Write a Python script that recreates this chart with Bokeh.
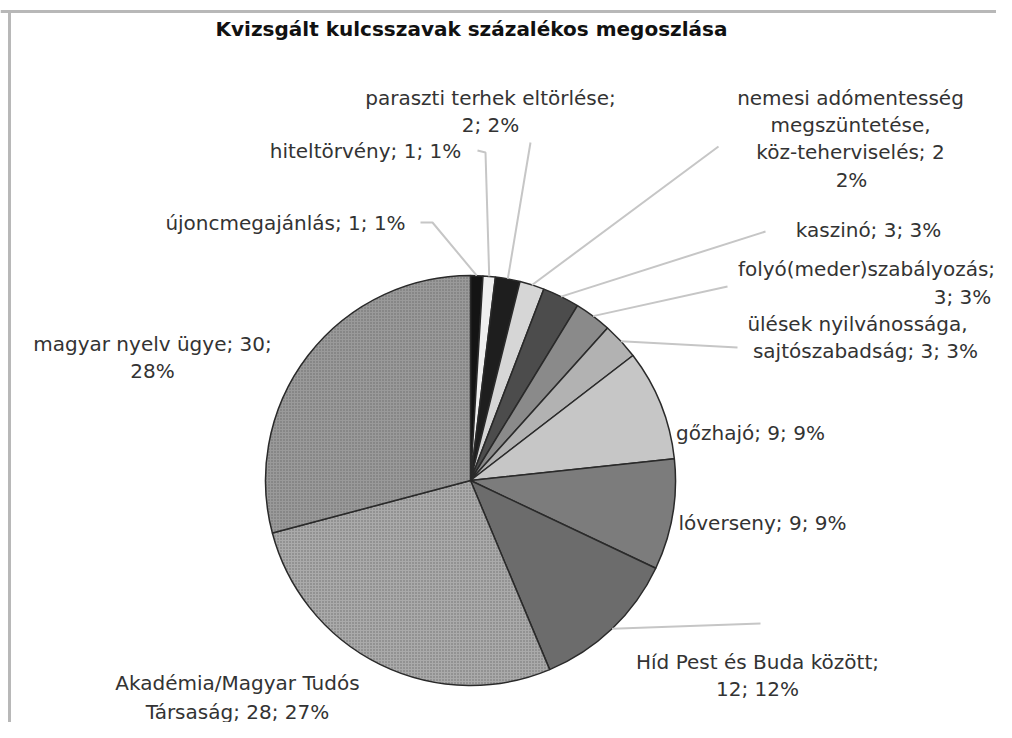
import math
from bokeh.plotting import figure
from bokeh.models import Range1d
from bokeh.core.properties import value
from bokeh.embed import file_html
from bokeh.resources import INLINE

# ---------------- data ----------------
title = "Kvizsgált kulcsszavak százalékos megoszlása"
categories = [
    "újoncmegajánlás", "hiteltörvény", "paraszti terhek eltörlése",
    "nemesi adómentesség megszüntetése, köz-teherviselés", "kaszinó",
    "folyó(meder)szabályozás", "ülések nyilvánossága, sajtószabadság",
    "gőzhajó", "lóverseny", "Híd Pest és Buda között",
    "Akadémia/Magyar Tudós Társaság", "magyar nyelv ügye",
]
values = [1, 1, 2, 2, 3, 3, 3, 9, 9, 12, 28, 30]
percent_labels = ["1%", "1%", "2%", "2%", "3%", "3%", "3%", "9%", "9%", "12%", "27%", "28%"]
label_lines = [
    ["újoncmegajánlás; 1; 1%"],
    ["hiteltörvény; 1; 1%"],
    ["paraszti terhek eltörlése;", "2; 2%"],
    ["nemesi adómentesség", "megszüntetése,", "köz-teherviselés; 2", "2%"],
    ["kaszinó; 3; 3%"],
    ["folyó(meder)szabályozás;", "3; 3%"],
    ["ülések nyilvánossága,", "sajtószabadság; 3; 3%"],
    ["gőzhajó; 9; 9%"],
    ["lóverseny; 9; 9%"],
    ["Híd Pest és Buda között;", "12; 12%"],
    ["Akadémia/Magyar Tudós", "Társaság; 28; 27%"],
    ["magyar nyelv ügye; 30;", "28%"],
]

# ---------------- style / layout ----------------
fills = ["#141414", "#efefef", "#1e1e1e", "#d6d6d6", "#4c4c4c", "#8a8a8a",
         "#b2b2b2", "#c6c6c6", "#7c7c7c", "#6c6c6c", "#aaaaaa", "#9a9a9a"]
hatches = [None] * 10 + ["dot", "dot"]

W, H = 1012, 738
FW, FH = W - 16, H - 16
CX, CY, R = 470, 480, 205  # pixel coords of pie centre


def Y(py):
    return H - py


# label line positions (pixel coords)
line_pos = [
    [(285, 222)],
    [(365, 150)],
    [(490, 97), (490, 124)],
    [(850, 97), (850, 124), (850, 151), (851, 179)],
    [(868, 229)],
    [(866, 268), (962, 296)],
    [(857, 323), (865, 350)],
    [(750, 432)],
    [(762, 522)],
    [(757, 661), (757, 688)],
    [(237, 682), (237, 711)],
    [(152, 343), (152, 370)],
]
# leader polylines after the wedge-edge start point (pixel coords)
leaders = {
    0: [(432, 222), (420, 222)],
    1: [(485, 152), (477, 150)],
    2: [(530, 142)],
    3: [(718, 146)],
    4: [(765, 231)],
    5: [(727, 286)],
    6: [(737, 347)],
    9: [(760, 623)],
}

p = figure(width=FW, height=FH, output_backend="svg", toolbar_location=None,
           x_range=Range1d(0, FW), y_range=Range1d(H - FH, H), min_border=0)
p.axis.visible = False
p.grid.visible = False
p.outline_line_color = None
p.background_fill_color = "white"

# border lines (top and left)
p.segment(x0=[0, 9], y0=[Y(11), Y(11)], x1=[FW, 9], y1=[Y(11), Y(FH)],
          line_color="#b8b8b8", line_width=3)

total = sum(values)
starts, ends, mids = [], [], []
cum = 0
for v in values:
    a0 = math.pi / 2 - 2 * math.pi * cum / total
    a1 = math.pi / 2 - 2 * math.pi * (cum + v) / total
    starts.append(a0)
    ends.append(a1)
    mids.append((a0 + a1) / 2)
    cum += v

for i in range(len(values)):
    kw = {}
    if hatches[i]:
        kw = dict(hatch_pattern=hatches[i], hatch_color="#555555", hatch_scale=3,
                  hatch_weight=1.5, hatch_alpha=0.7)
    p.wedge(x=[CX], y=[Y(CY)], radius=R, start_angle=[starts[i]], end_angle=[ends[i]],
            direction="clock", fill_color=fills[i], line_color="#2a2a2a", line_width=1.5, **kw)

# leader lines
xs, ys = [], []
for i, pts in leaders.items():
    ex = CX + R * math.cos(mids[i])
    ey = Y(CY) + R * math.sin(mids[i])
    xs.append([ex] + [q[0] for q in pts])
    ys.append([ey] + [Y(q[1]) for q in pts])
p.multi_line(xs=xs, ys=ys, line_color="#c6c6c6", line_width=2)

# labels
tx, ty, tt = [], [], []
for i, lines in enumerate(label_lines):
    for txt, (lx, ly) in zip(lines, line_pos[i]):
        tx.append(lx)
        ty.append(Y(ly))
        tt.append(txt)
p.text(x=tx, y=ty, text=tt, text_align="center", text_baseline="middle",
       text_font=value("DejaVu Sans"), text_font_size="20px", text_color="#333333")

# title
p.text(x=[471], y=[Y(28)], text=[title], text_align="center", text_baseline="middle",
       text_font=value("DejaVu Sans"), text_font_size="20px", text_font_style="bold",
       text_color="#111111")

open("out.html", "w").write(file_html(p, INLINE))
